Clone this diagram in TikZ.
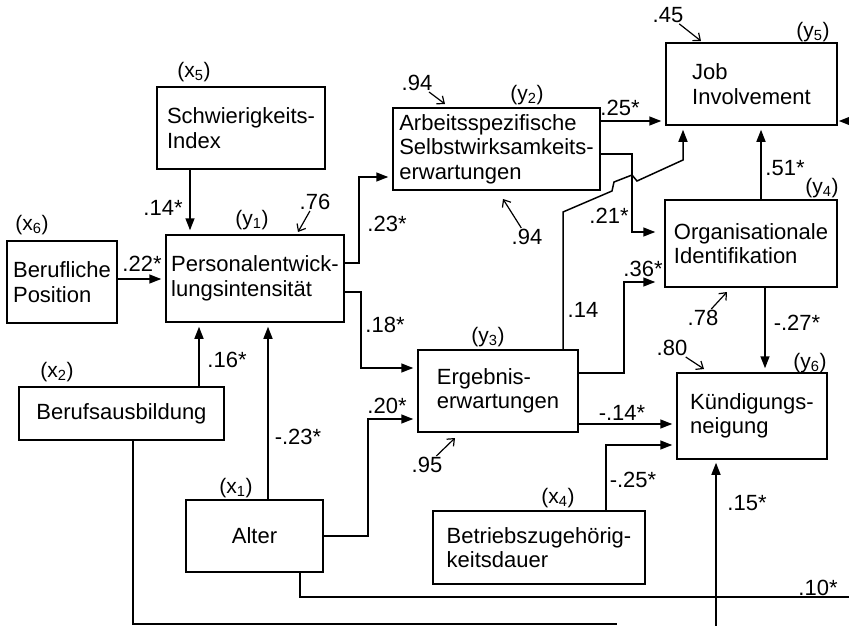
\documentclass[tikz,border=0pt]{standalone}
\usepackage{fontspec}
\setmainfont{Liberation Sans}
\usetikzlibrary{arrows.meta}

\begin{document}
\begin{tikzpicture}[x=1pt, y=-1pt,
    font=\fontsize{22}{24.5}\selectfont,
    box/.style={draw, line width=1.5pt, align=left, inner sep=2pt},
    link/.style={line width=1.5pt, -{Triangle[length=12pt,width=9pt]}, shorten >=4pt},
    err/.style={line width=1.2pt, -{Straight Barb[length=6pt,width=10pt]}},
    coef/.style={inner sep=1pt},
    var/.style={inner sep=1pt, font=\fontsize{21}{23}\selectfont}]
  \useasboundingbox (0,0) rectangle (849,626);

  % Variables
  \node[box, minimum width=168pt, minimum height=82pt] (sch) at (241,128) {Schwierigkeits-\\Index};
  \node[box, minimum width=110pt, minimum height=82pt] (bp) at (62,282) {Berufliche\\Position};
  \node[box, minimum width=178pt, minimum height=87pt] (pers) at (255,278.5) {Personalentwick-\\lungsintensität};
  \node[box, minimum width=207pt, minimum height=82pt] (arb) at (496.5,149) {Arbeitsspezifische\\Selbstwirksamkeits-\\erwartungen};
  \node[box, minimum width=171pt, minimum height=82pt] (job) at (751.5,84) {Job\\Involvement};
  \node[box, minimum width=172pt, minimum height=87pt] (org) at (751,243.5) {Organisationale\\Identifikation};
  \node[box, minimum width=160pt, minimum height=82pt] (erg) at (498,391) {Ergebnis-\\erwartungen};
  \node[box, minimum width=205pt, minimum height=53pt] (ausb) at (121.5,413.5) {Berufsausbildung};
  \node[box, minimum width=137pt, minimum height=72pt] (alter) at (254.5,536) {Alter};
  \node[box, minimum width=150pt, minimum height=86pt] (kue) at (752,416) {Kündigungs-\\neigung};
  \node[box, minimum width=212pt, minimum height=73pt] (dauer) at (539,547.5) {Betriebszugehörig-\\keitsdauer};

  % Labels of the variables
  \foreach \nm/\cx/\cy/\v/\i in {lx5/194/72/x/5, lx6/32/225/x/6, ly1/252/220/y/1,
      ly2/527/95/y/2, ly5/813/32/y/5, ly4/822/188/y/4, ly3/488/337/y/3,
      lx2/57/372/x/2, lx1/236/488/x/1, ly6/810/363/y/6, lx4/558/498/x/4}
    \node[var] (\nm) at (\cx,\cy) {(\v\textsubscript{\i})};

  % Residuals
  \foreach \nm/\cx/\cy/\tx/\ty/\txt in {e76/315/202/298/232/.76, e94a/417/83/445/104/.94,
      e94b/527/237/503/199/.94, e45/668/15/701/41/.45, e78/703/318/727/292/.78,
      e80/672/348/704/369/.80, e95/427/465/455/438/.95} {
    \node[coef] (\nm) at (\cx,\cy) {\txt};
    \coordinate (\nm t) at (\tx,\ty);
    \draw[err] (\nm) -- (\nm t);
  }

  % Paths
  \draw[link] (sch.south -| 190,0) -- (pers.north -| 190,0);
  \draw[link] (bp.east |- 0,279) -- (pers.west |- 0,279);
  \draw[link] (pers.east |- 0,263) -- (359,263) -- (359,177) -- (arb.west |- 0,177);
  \draw[link] (pers.east |- 0,292) -- (361,292) -- (361,368) -- (erg.west |- 0,368);
  \draw[link] (ausb.north -| 199,0) -- (pers.south -| 199,0);
  \draw[link] (alter.north -| 268,0) -- (pers.south -| 268,0);
  \draw[link] (alter.east |- 0,536) -- (368,536) -- (368,419) -- (erg.west |- 0,419);
  \draw[link] (arb.east |- 0,121) -- (job.west |- 0,121);
  \draw[link, shorten >=9pt] (arb.east |- 0,154) -- (632,154) -- (632,232) -- (org.west |- 0,232);
  \draw[link] (erg.north -| 563,0) -- (563,212) -- (612,191) -- (614,182) -- (632,175)
    -- (637,181) -- (683,160) -- (job.south -| 683,0);
  \draw[link, shorten >=9pt] (erg.east |- 0,373) -- (624,373) -- (624,282) -- (org.west |- 0,282);
  \draw[link] (org.north -| 761,0) -- (job.south -| 761,0);
  \draw[link] (org.south -| 765,0) -- (kue.north -| 765,0);
  \draw[link] (erg.east |- 0,424) -- (kue.west |- 0,424);
  \draw[link] (dauer.north -| 606,0) -- (606,445) -- (kue.west |- 0,445);

  % Lines leaving the picture
  \coordinate (rin) at (849,121);
  \coordinate (bin) at (716,626);
  \coordinate (rout) at (849,597);
  \coordinate (bout) at (617,624);
  \draw[link, shorten >=1pt] (rin) -- (job.east |- rin);
  \draw[link, shorten >=3pt] (bin) -- (bin |- kue.south);
  \draw[line width=1.5pt] (alter.south -| 300,0) -- (300,597) -- (rout);
  \draw[line width=1.5pt] (ausb.south -| 133,0) -- (133,624) -- (bout);

  % Coefficients
  \foreach \nm/\cx/\cy/\txt in {c14/163/208/.14*, c22/142/264/.22*, c23/387/224/.23*,
      c18/385/325/.18*, c16/227/360/.16*, c23n/298/437/-.23*, c20/387/406/.20*,
      c25/620/108/.25*, c21/609/216/.21*, c14n/583/310/.14, c36/643/269/.36*,
      c51/785/168/.51*, c27/797/323/-.27*, c14m/622/413/-.14*, c25n/633/480/-.25*,
      c15/747/503/.15*, c10/818/588/.10*}
    \node[coef] (\nm) at (\cx,\cy) {\txt};
\end{tikzpicture}
\end{document}
